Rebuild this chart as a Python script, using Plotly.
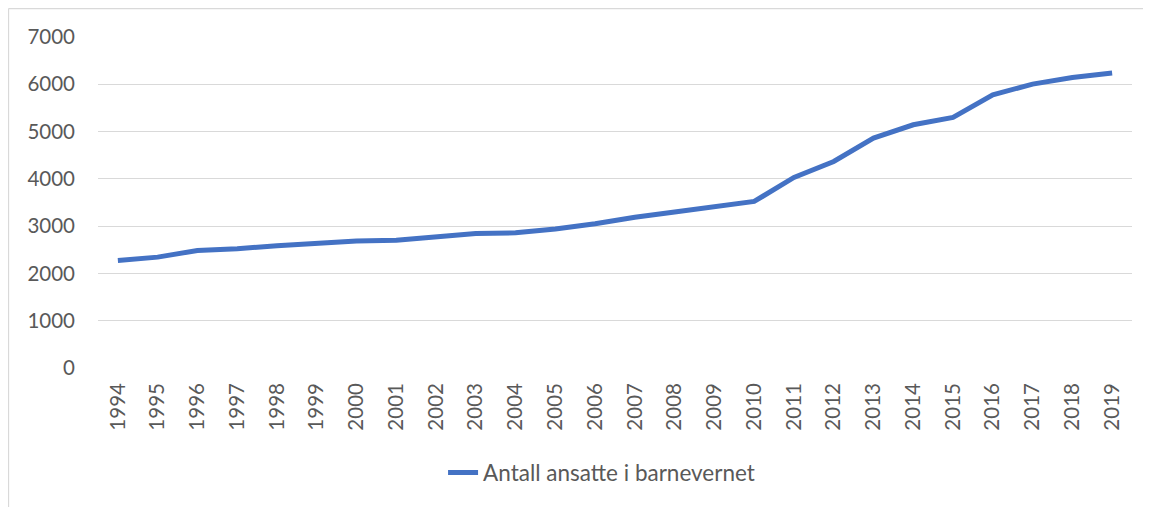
import plotly.graph_objects as go

years = [str(y) for y in range(1994, 2020)]
ansatte = [2275, 2345, 2486, 2522, 2586, 2634, 2685, 2700, 2780, 2845,
           2858, 2940, 3050, 3190, 3300, 3420, 3522, 4030, 4368, 4862,
           5144, 5298, 5778, 6004, 6144, 6237]
series_name = "Antall ansatte i barnevernet"
y_ticks = [0, 1000, 2000, 3000, 4000, 5000, 6000, 7000]

FONT = "Lato, Carlito, Calibri, sans-serif"
GRAY = "#595959"
BORDER = "#D9D9D9"

W, H = 1143, 499
L, R, T, B = 90, 19, 29, 139
PW, PH = W - L - R, H - T - B

fig = go.Figure()
fig.add_trace(go.Scatter(
    x=years, y=ansatte, mode="lines", name=series_name,
    line=dict(color="#4472C4", width=5, shape="linear"),
))

fig.update_layout(
    width=W, height=H,
    margin=dict(l=L, r=R, t=T, b=B),
    paper_bgcolor="white", plot_bgcolor="white",
    font=dict(family=FONT, size=20, color=GRAY),
    showlegend=True,
    legend=dict(orientation="h", x=0.487, xanchor="center", y=-0.317, yanchor="middle",
                font=dict(family=FONT, size=22.5, color=GRAY)),
    xaxis=dict(type="category", range=[-0.5, len(years) - 0.5],
               tickangle=-90, showgrid=False, showline=False, zeroline=False,
               ticks="", ticklabelstandoff=10,
               tickfont=dict(family=FONT, size=20.5, color=GRAY)),
    yaxis=dict(range=[0, 7000], tickvals=y_ticks, showgrid=True, gridcolor=BORDER,
               gridwidth=1.3, zeroline=False, showline=False, ticks="",
               ticklabelstandoff=22, tickfont=dict(family=FONT, size=20.5, color=GRAY)),
    shapes=[
        dict(type="line", xref="paper", yref="paper",
             x0=-(L - 0.5) / PW, x1=(PW + R) / PW, y0=1 + (T - 0.5) / PH, y1=1 + (T - 0.5) / PH,
             line=dict(color=BORDER, width=1.3), layer="below"),
        dict(type="line", xref="paper", yref="paper",
             x0=-(L - 0.5) / PW, x1=-(L - 0.5) / PW, y0=1 + (T - 0.5) / PH, y1=-B / PH,
             line=dict(color=BORDER, width=1.3), layer="below"),
    ],
)

fig.write_html("out.html")
